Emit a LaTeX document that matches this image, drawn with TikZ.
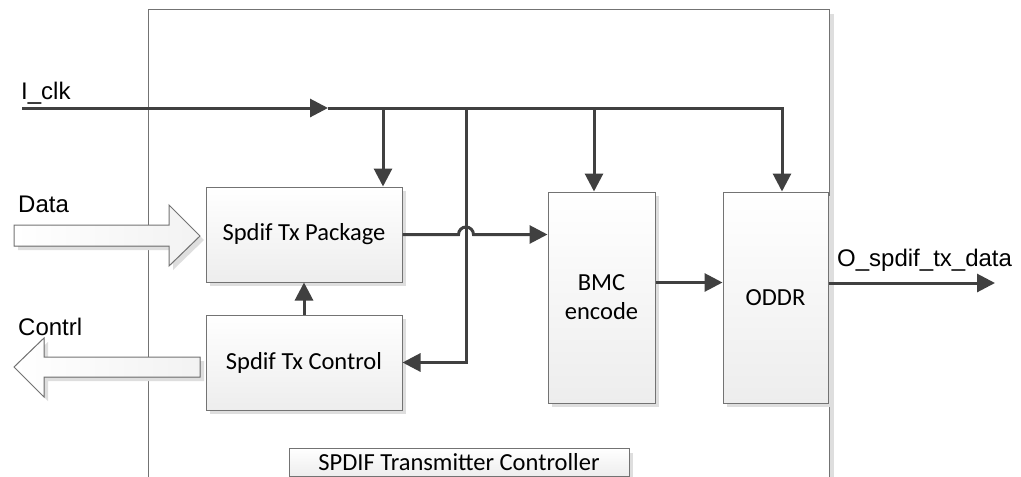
\documentclass[tikz,border=0pt]{standalone}
\usepackage{fontspec}
\setmainfont{Carlito}
\newfontfamily\arialfont{Liberation Sans}
\usetikzlibrary{calc, arrows.meta, shadows}

\tikzset{
    boxshadow/.style={drop shadow={shadow xshift=4pt, shadow yshift=-4pt, fill=black!13, opacity=1}},
    block/.style={draw=black!55, line width=1pt, top color=white, bottom color=black!7, boxshadow,
        align=center, inner sep=0pt, font=\fontsize{24.5}{29}\selectfont},
    wire/.style={draw=black!75, line width=3pt},
    tip/.style={-{Triangle[length=18pt,width=18pt]}},
    sig/.style={font=\arialfont\fontsize{24}{28}\selectfont, anchor=base west, inner sep=0pt},
    fatarrow/.style={draw=black!55, line width=1pt, left color=white, right color=black!5, boxshadow}
}

\begin{document}
\begin{tikzpicture}[x=1pt, y=-1pt]
    \useasboundingbox (0,0) rectangle (1021,477);

    % outer controller frame
    \node[draw=black!55, line width=1pt, fill=white, boxshadow, minimum width=681pt, minimum height=491pt,
        anchor=north west, inner sep=0pt] (frame) at (148,9) {};
    \node[block, minimum width=340pt, minimum height=28pt, anchor=north] (title) at (459,448)
        {SPDIF Transmitter Controller};

    % blocks
    \node[block, minimum width=196pt, minimum height=95pt] (pkg) at (304,234.5) {Spdif Tx Package};
    \node[block, minimum width=196pt, minimum height=95pt] (ctrl) at (304,362.5) {Spdif Tx Control};
    \node[block, minimum width=107pt, minimum height=211pt] (bmc) at (601.5,297.5) {BMC\\encode};
    \node[block, minimum width=105pt, minimum height=211pt] (oddr) at (775.5,297.5) {ODDR};

    % fat in/out arrows
    \pgfmathsetmacro{\hb}{169}
    \filldraw[fatarrow] (14,225) -- (\hb,225) -- (\hb,205) -- (200,236) -- (\hb,266) -- (\hb,246) -- (14,246) -- cycle;
    \pgfmathsetmacro{\hc}{44}
    \filldraw[fatarrow] (200,357) -- (\hc,357) -- (\hc,338) -- (14,367) -- (\hc,397) -- (\hc,377) -- (200,377) -- cycle;

    % labels
    \node[sig] (clklbl) at (21,99) {I\_clk};
    \node[sig] (datalbl) at (18,212) {Data};
    \node[sig] (ctrllbl) at (18,335) {Contrl};
    \node[sig] (outlbl) at (837,266) {O\_spdif\_tx\_data};

    % clock tree
    \coordinate (clkin) at (22,108);
    \coordinate (clkmid) at (328,108);
    \coordinate (tA) at (383,108);
    \coordinate (tB) at (466,108);
    \coordinate (tC) at (594,108);
    \coordinate (tD) at (782,108);
    \draw[wire,tip] (clkin) -- (clkmid);
    \draw[wire,tip] (clkmid) -- (tD) -- (tD |- oddr.north);
    \foreach \t/\b in {tA/pkg, tC/bmc} {
        \draw[wire,tip] (\t) -- (\t |- \b.north);
    }
    \draw[wire,tip] (tB) -- (tB |- ctrl.east) -- (ctrl.east);

    % data path
    \draw[wire,tip] (pkg.east) -- ($(tB |- pkg.east)+(-7.5,0)$) arc[start angle=180, end angle=0, radius=7.5pt]
        -- (pkg.east -| bmc.west);
    \draw[wire,tip] (ctrl.north) -- (pkg.south);
    \draw[wire,tip] ($(bmc.east)+(0,-15)$) -- ($(bmc.east -| oddr.west)+(0,-15)$);
    \coordinate (out) at (995,283);
    \draw[wire,tip] (oddr.east |- out) -- (out);
\end{tikzpicture}
\end{document}
